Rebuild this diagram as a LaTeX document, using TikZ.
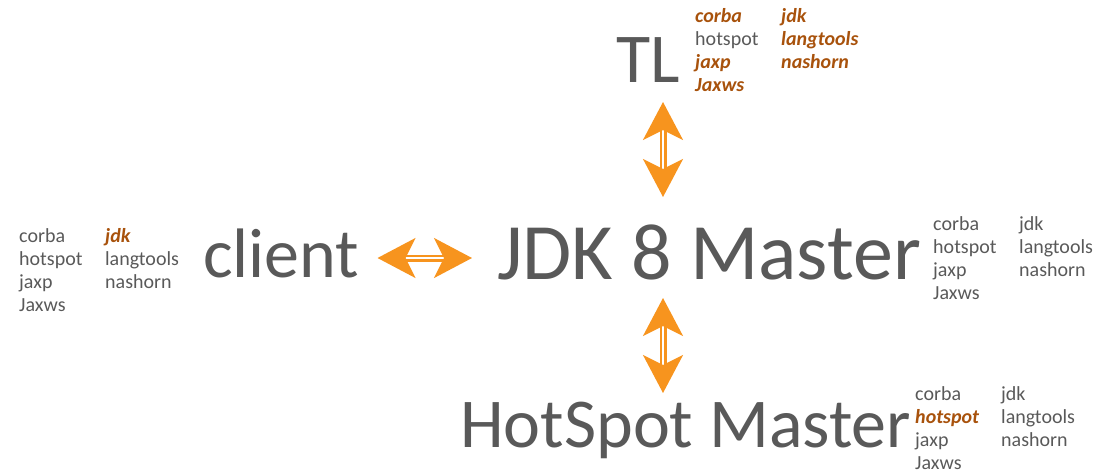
\documentclass[tikz,border=0pt]{standalone}
\usepackage{fontspec}
\setmainfont{Carlito}
\usepackage{xcolor}
\definecolor{textgray}{HTML}{595959}
\definecolor{repohl}{HTML}{A8520C}
\definecolor{arroworange}{HTML}{F7941E}
\newcommand{\hl}[1]{\textcolor{repohl}{\bfseries\itshape #1}}
\newcommand{\repos}[7]{\begin{tabular}[t]{@{}p{86pt}@{}l@{}}#1&#5\\#2&#6\\#3&#7\\#4&\end{tabular}}
\usepackage{tikz}
\usetikzlibrary{arrows.meta,positioning}

\begin{document}
\begin{tikzpicture}[x=1pt,y=-1pt]
	\useasboundingbox (0,0) rectangle (1102,471);
	\begin{scope}[
		repoName/.style={inner sep=0pt,anchor=base west,text=textgray},
		repoMain/.style={repoName,font=\fontsize{80}{96}\selectfont},
		repoSide/.style={repoName,font=\fontsize{70}{84}\selectfont},
		repoList/.style={inner sep=0pt,anchor=base west,text=textgray,font=\fontsize{20}{23}\selectfont},
		sync/.style={draw=arroworange,double=white,line width=2.5pt,double distance=2pt,
			{Stealth[length=38pt,width=40pt,inset=10pt]}-{Stealth[length=38pt,width=40pt,inset=10pt]}}]
		\node [repoMain]	(master)	at (497,279)	{JDK 8 Master};
		\node [repoSide]	(client)	at (203,277)	{client};
		\node [repoSide]	(tl)		at (616,82)		{TL};
		\node [repoSide]	(hotspot)	at (460,447)	{HotSpot Master};
		\node [repoList]	(masterRepos)	at (933,230)	{\repos{corba}{hotspot}{jaxp}{Jaxws}{jdk}{langtools}{nashorn}};
		\node [repoList]	(clientRepos)	at (19,242)		{\repos{corba}{hotspot}{jaxp}{Jaxws}{\hl{jdk}}{langtools}{nashorn}};
		\node [repoList]	(tlRepos)		at (695,22)		{\repos{\hl{corba}}{hotspot}{\hl{jaxp}}{\hl{Jaxws}}{\hl{jdk}}{\hl{langtools}}{\hl{nashorn}}};
		\node [repoList]	(hotspotRepos)	at (915,400)	{\repos{corba}{\hl{hotspot}}{jaxp}{Jaxws}{jdk}{langtools}{nashorn}};
		\path
		([xshift=18pt,yshift=19pt]client.base east)	edge [sync]	([xshift=-25pt,yshift=21pt]master.base west)
		([xshift=47pt,yshift=-20pt]tl.base west)	edge [sync]	([xshift=166pt,yshift=82pt]master.base west)
		([xshift=166pt,yshift=-19pt]master.base west)	edge [sync]	([xshift=203pt,yshift=54pt]hotspot.base west)
		;
	\end{scope}
\end{tikzpicture}
\end{document}
